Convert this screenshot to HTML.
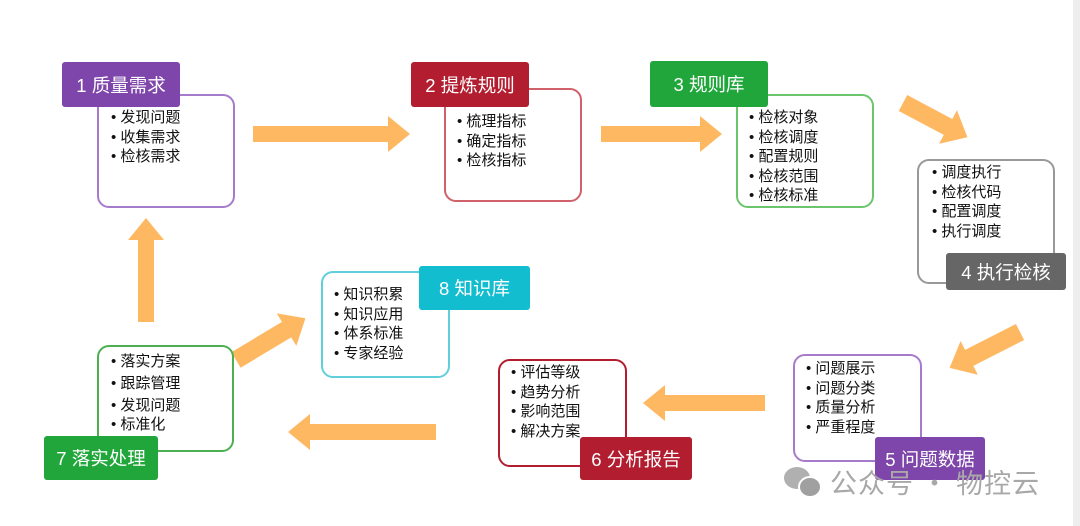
<!DOCTYPE html>
<html><head><meta charset="utf-8"><style>
body{margin:0;width:1080px;height:526px;background:#fff;position:relative;overflow:hidden;font-family:"Liberation Sans","Noto Sans CJK SC",sans-serif;}
.b{position:absolute;border:2px solid;border-radius:12px;background:#fff;box-sizing:border-box;}
.l{position:absolute;color:#fff;font-size:18.5px;border-radius:3px;display:flex;align-items:center;justify-content:center;box-sizing:border-box;}
.t{position:absolute;font-size:15px;line-height:19.5px;color:#111;}
svg{position:absolute;left:0;top:0;}
</style></head><body>
<div style="position:absolute;left:1073px;top:0;width:7px;height:526px;background:#eeeeee"></div>
<svg width="1080" height="526">
<g fill="#FFB862">
<polygon transform="translate(253,134) rotate(0)" points="0,-8 135,-8 135,-18 157,0 135,18 135,8 0,8"/>
<polygon transform="translate(601,134) rotate(0)" points="0,-8 99,-8 99,-18 121,0 99,18 99,8 0,8"/>
<polygon transform="translate(903,103) rotate(28)" points="0,-9 51,-9 51,-19 73,0 51,19 51,9 0,9"/>
<polygon transform="translate(1020,332) rotate(153)" points="0,-9 57,-9 57,-19 79,0 57,19 57,9 0,9"/>
<polygon transform="translate(765,403) rotate(180)" points="0,-8 100,-8 100,-18 122,0 100,18 100,8 0,8"/>
<polygon transform="translate(436,432) rotate(180)" points="0,-8 126,-8 126,-18 148,0 126,18 126,8 0,8"/>
<polygon transform="translate(236,360) rotate(-31)" points="0,-9 59,-9 59,-19 81,0 59,19 59,9 0,9"/>
<polygon transform="translate(146,322) rotate(-90)" points="0,-8 82,-8 82,-18 104,0 82,18 82,8 0,8"/>
</g>
</svg>

<div class="b" style="left:97px;top:94px;width:138px;height:114px;border-color:#A77BCB"></div>
<div class="l" style="left:62px;top:62px;width:118px;height:45px;background:#7E45AA">1 质量需求</div>
<div class="t" style="left:111px;top:108px">• 发现问题<br>• 收集需求<br>• 检核需求</div>

<div class="b" style="left:444px;top:88px;width:138px;height:114px;border-color:#D0606A"></div>
<div class="l" style="left:411px;top:62px;width:118px;height:45px;background:#B21E30">2 提炼规则</div>
<div class="t" style="left:457px;top:112px">• 梳理指标<br>• 确定指标<br>• 检核指标</div>

<div class="b" style="left:736px;top:94px;width:138px;height:114px;border-color:#6CC56C"></div>
<div class="l" style="left:650px;top:61px;width:118px;height:46px;background:#20A63A">3 规则库</div>
<div class="t" style="left:749px;top:108px">• 检核对象<br>• 检核调度<br>• 配置规则<br>• 检核范围<br>• 检核标准</div>

<div class="b" style="left:917px;top:159px;width:138px;height:125px;border-color:#999"></div>
<div class="t" style="left:932px;top:163px">• 调度执行<br>• 检核代码<br>• 配置调度<br>• 执行调度</div>
<div class="l" style="left:946px;top:253px;width:120px;height:37px;background:#666">4 执行检核</div>

<div class="b" style="left:793px;top:354px;width:129px;height:108px;border-color:#A77BCB"></div>
<div class="t" style="left:806px;top:359px">• 问题展示<br>• 问题分类<br>• 质量分析<br>• 严重程度</div>
<div class="l" style="left:875px;top:437px;width:110px;height:43px;background:#7E45AA">5 问题数据</div>

<div class="b" style="left:498px;top:359px;width:129px;height:108px;border-color:#B21E30"></div>
<div class="t" style="left:511px;top:363px">• 评估等级<br>• 趋势分析<br>• 影响范围<br>• 解决方案</div>
<div class="l" style="left:580px;top:437px;width:112px;height:43px;background:#B21E30">6 分析报告</div>

<div class="b" style="left:97px;top:345px;width:137px;height:107px;border-color:#4CAF50"></div>
<div class="t" style="left:111px;top:352px">• 落实方案<br><span style="line-height:24px">• 跟踪管理</span><br>• 发现问题<br>• 标准化</div>
<div class="l" style="left:44px;top:436px;width:114px;height:44px;background:#20A63A">7 落实处理</div>

<div class="b" style="left:321px;top:271px;width:129px;height:107px;border-color:#5FCFDA"></div>
<div class="t" style="left:334px;top:285px">• 知识积累<br>• 知识应用<br>• 体系标准<br>• 专家经验</div>
<div class="l" style="left:419px;top:266px;width:111px;height:44px;background:#13BDD0">8 知识库</div>

<svg width="1080" height="526" style="pointer-events:none">
<g fill="#b0b0b0">
<ellipse cx="797" cy="478" rx="13" ry="11"/>
<ellipse cx="810" cy="487" rx="11" ry="10" fill="#a0a0a0" stroke="#fff" stroke-width="2"/>
</g>
</svg>
<div style="position:absolute;left:830px;top:466px;font-size:27px;color:#a8a8a8;letter-spacing:1px;font-family:'Noto Sans CJK SC',sans-serif;line-height:32px">公众号 · 物控云</div>
</body></html>
